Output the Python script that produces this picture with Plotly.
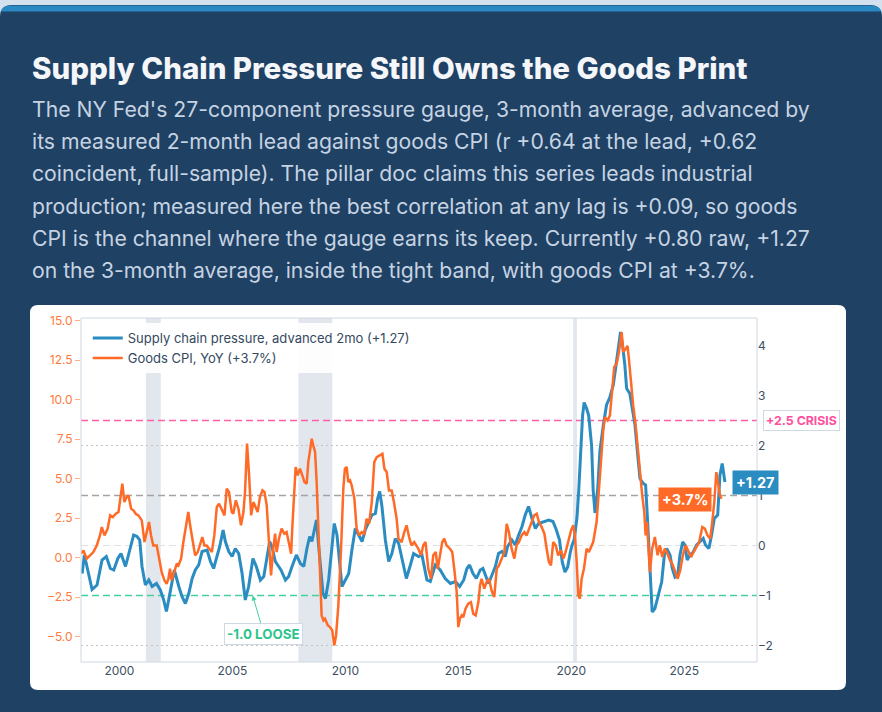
import plotly.graph_objects as go

# supply chain pressure (3-mo avg, advanced 2 months)
pressure_year = [
    1998.35, 1998.45, 1998.79, 1999.01, 1999.23, 1999.42, 1999.60, 1999.75, 1999.93, 2000.07,
    2000.27, 2000.49, 2000.63, 2000.78, 2000.90, 2001.00, 2001.15, 2001.30, 2001.45, 2001.64,
    2001.81, 2001.96, 2002.08, 2002.18, 2002.33, 2002.43, 2002.63, 2002.77, 2002.92, 2003.07,
    2003.22, 2003.36, 2003.51, 2003.66, 2003.88, 2004.03, 2004.17, 2004.32, 2004.44, 2004.59,
    2004.69, 2004.84, 2004.99, 2005.13, 2005.28, 2005.43, 2005.57, 2005.72, 2005.91, 2006.06,
    2006.24, 2006.39, 2006.53, 2006.65, 2006.75, 2006.90, 2007.05, 2007.15, 2007.35, 2007.49,
    2007.64, 2007.83, 2008.01, 2008.16, 2008.30, 2008.42, 2008.52, 2008.63, 2008.72, 2008.86,
    2009.01, 2009.12, 2009.26, 2009.41, 2009.51, 2009.63, 2009.75, 2009.85, 2010.00, 2010.15,
    2010.29, 2010.44, 2010.59, 2010.74, 2010.88, 2011.03, 2011.18, 2011.33, 2011.43, 2011.52,
    2011.62, 2011.77, 2011.92, 2012.06, 2012.21, 2012.36, 2012.51, 2012.70, 2012.88, 2013.02,
    2013.24, 2013.39, 2013.61, 2013.76, 2013.98, 2014.20, 2014.42, 2014.65, 2014.87, 2015.06,
    2015.24, 2015.38, 2015.50, 2015.65, 2015.80, 2015.97, 2016.09, 2016.24, 2016.34, 2016.49,
    2016.64, 2016.78, 2016.93, 2017.08, 2017.18, 2017.37, 2017.52, 2017.67, 2017.82, 2017.96,
    2018.11, 2018.26, 2018.41, 2018.55, 2018.78, 2019.00, 2019.19, 2019.34, 2019.48, 2019.60,
    2019.72, 2019.84, 2019.95, 2020.03, 2020.13, 2020.25, 2020.33, 2020.42, 2020.50, 2020.57,
    2020.68, 2020.77, 2020.90, 2020.97, 2021.05, 2021.17, 2021.27, 2021.42, 2021.56, 2021.71,
    2021.86, 2021.96, 2022.08, 2022.18, 2022.27, 2022.37, 2022.45, 2022.59, 2022.70, 2022.82,
    2022.94, 2023.04, 2023.19, 2023.29, 2023.38, 2023.48, 2023.58, 2023.70, 2023.85, 2024.00,
    2024.12, 2024.22, 2024.37, 2024.47, 2024.59, 2024.71, 2024.81, 2024.93, 2025.03, 2025.13,
    2025.25, 2025.40, 2025.55, 2025.69, 2025.84, 2025.94, 2026.09, 2026.21, 2026.33, 2026.48,
    2026.58, 2026.68, 2026.74, 2026.80,
]
pressure_value = [
    -0.56, -0.19, -0.88, -0.79, -0.29, -0.22, -0.46, -0.49, -0.26, -0.16,
    -0.42, -0.06, 0.21, 0.18, 0.11, -0.42, -0.79, -0.69, -0.82, -0.76,
    -0.89, -1.09, -1.32, -1.09, -0.69, -0.49, -0.82, -1.02, -1.16, -0.96,
    -0.66, -0.49, -0.39, -0.12, -0.09, -0.32, -0.46, -0.22, -0.02, 0.31,
    0.08, -0.12, -0.22, -0.06, -0.16, -0.56, -1.09, -0.82, -0.26, -0.42,
    -0.69, -0.62, -0.22, 0.08, -0.02, -0.32, -0.42, -0.49, -0.69, -0.62,
    -0.42, -0.19, -0.36, -0.42, -0.06, 0.18, 0.08, 0.31, 0.51, -0.22,
    -0.96, -1.06, -0.69, -0.02, 0.44, 0.21, -0.36, -0.82, -0.69, -0.56,
    -0.09, 0.34, 0.21, 0.08, 0.31, 0.48, 0.61, 0.64, 0.94, 1.08,
    0.78, 0.11, -0.32, -0.16, 0.14, 0.04, -0.29, -0.66, -0.39, -0.16,
    -0.22, -0.19, -0.69, -0.72, -0.39, -0.49, -0.66, -0.76, -0.72, -0.82,
    -0.69, -0.46, -0.39, -0.56, -0.66, -0.49, -0.46, -0.66, -0.76, -0.59,
    -0.42, -0.16, -0.12, -0.22, -0.02, 0.11, 0.01, 0.21, 0.38, 0.61,
    0.78, 0.54, 0.34, 0.44, 0.48, 0.51, 0.48, 0.31, 0.11, -0.33,
    -0.53, -0.43, -0.15, 0.0, 0.12, 0.55, 1.1, 1.9, 2.6, 2.86,
    2.74, 2.6, 2.0, 1.1, 0.65, 1.14, 1.9, 2.41, 2.81, 2.97,
    3.21, 3.54, 3.94, 4.27, 4.01, 3.61, 3.14, 3.04, 2.74, 2.41,
    1.81, 1.34, 1.24, 1.21, 0.47, -0.46, -1.33, -1.26, -0.99, -0.73,
    -0.19, -0.06, -0.19, -0.46, -0.63, -0.59, -0.19, 0.07, 0.01, -0.29,
    -0.19, -0.13, 0.01, 0.07, 0.14, 0.01, -0.06, 0.21, 0.54, 0.61,
    1.41, 1.64, 1.41, 1.27,
]

# goods CPI, YoY %
cpi_year = [
    1998.30, 1998.41, 1998.55, 1998.70, 1998.85, 1999.00, 1999.14, 1999.22, 1999.34, 1999.48,
    1999.59, 1999.71, 1999.84, 1999.96, 2000.06, 2000.13, 2000.22, 2000.32, 2000.40, 2000.52,
    2000.62, 2000.72, 2000.84, 2000.99, 2001.11, 2001.21, 2001.31, 2001.40, 2001.50, 2001.65,
    2001.76, 2001.87, 2001.99, 2002.09, 2002.17, 2002.24, 2002.31, 2002.43, 2002.54, 2002.61,
    2002.73, 2002.83, 2002.94, 2003.05, 2003.13, 2003.23, 2003.35, 2003.47, 2003.57, 2003.67,
    2003.76, 2003.86, 2003.97, 2004.09, 2004.20, 2004.31, 2004.41, 2004.53, 2004.65, 2004.75,
    2004.85, 2004.97, 2005.04, 2005.15, 2005.27, 2005.38, 2005.49, 2005.56, 2005.65, 2005.74,
    2005.83, 2005.93, 2006.12, 2006.22, 2006.33, 2006.42, 2006.52, 2006.62, 2006.71, 2006.81,
    2006.89, 2006.96, 2007.06, 2007.18, 2007.30, 2007.40, 2007.48, 2007.60, 2007.65, 2007.73,
    2007.80, 2007.89, 2007.99, 2008.07, 2008.19, 2008.29, 2008.36, 2008.45, 2008.51, 2008.58,
    2008.66, 2008.73, 2008.81, 2008.88, 2008.95, 2009.03, 2009.10, 2009.22, 2009.32, 2009.42,
    2009.51, 2009.59, 2009.69, 2009.81, 2009.91, 2009.98, 2010.06, 2010.13, 2010.21, 2010.28,
    2010.40, 2010.50, 2010.61, 2010.72, 2010.84, 2010.94, 2011.05, 2011.17, 2011.28, 2011.39,
    2011.53, 2011.64, 2011.73, 2011.83, 2011.93, 2012.05, 2012.15, 2012.27, 2012.35, 2012.49,
    2012.61, 2012.71, 2012.82, 2012.93, 2013.05, 2013.23, 2013.35, 2013.45, 2013.55, 2013.67,
    2013.79, 2013.89, 2014.00, 2014.09, 2014.19, 2014.29, 2014.38, 2014.48, 2014.63, 2014.73,
    2014.82, 2014.93, 2015.00, 2015.07, 2015.15, 2015.22, 2015.32, 2015.44, 2015.56, 2015.66,
    2015.77, 2015.89, 2015.96, 2016.03, 2016.15, 2016.25, 2016.36, 2016.47, 2016.59, 2016.70,
    2016.80, 2016.92, 2017.04, 2017.14, 2017.24, 2017.36, 2017.48, 2017.58, 2017.68, 2017.80,
    2017.92, 2018.02, 2018.13, 2018.24, 2018.36, 2018.47, 2018.57, 2018.69, 2018.81, 2018.91,
    2019.01, 2019.10, 2019.20, 2019.31, 2019.42, 2019.54, 2019.65, 2019.75, 2019.87, 2019.99,
    2020.09, 2020.16, 2020.24, 2020.31, 2020.38, 2020.46, 2020.56, 2020.68, 2020.78, 2020.90,
    2020.97, 2021.12, 2021.22, 2021.31, 2021.42, 2021.49, 2021.61, 2021.71, 2021.81, 2021.90,
    2022.01, 2022.11, 2022.23, 2022.30, 2022.41, 2022.49, 2022.55, 2022.64, 2022.74, 2022.85,
    2022.96, 2023.07, 2023.14, 2023.23, 2023.29, 2023.35, 2023.48, 2023.58, 2023.70, 2023.82,
    2023.92, 2024.03, 2024.14, 2024.26, 2024.37, 2024.47, 2024.59, 2024.71, 2024.82, 2024.94,
    2025.06, 2025.18, 2025.30, 2025.41, 2025.55, 2025.66, 2025.80, 2025.91, 2026.03, 2026.15,
    2026.24, 2026.33, 2026.42, 2026.50, 2026.58, 2026.65,
]
cpi_value = [
    0.25, 0.46, -0.06, 0.15, 0.36, 0.78, 1.41, 1.94, 1.41, 1.84,
    2.68, 2.57, 2.78, 2.89, 4.16, 4.68, 3.52, 3.84, 3.95, 3.10,
    3.00, 2.78, 2.68, 2.36, 0.99, 1.62, 2.26, 1.41, 0.78, 0.78,
    -0.06, -0.91, -1.43, -1.65, -1.33, -0.70, -1.43, -0.91, -0.38, -0.49,
    -0.06, 0.99, 1.84, 2.89, 2.05, 1.10, 0.15, 0.36, 0.78, 1.31,
    0.78, 0.78, 0.57, 0.36, 1.41, 3.21, 3.42, 3.00, 2.68, 4.37,
    4.16, 2.89, 2.78, 3.63, 3.10, 2.05, 2.89, 4.16, 7.22, 5.21,
    2.68, 3.52, 2.89, 3.84, 4.26, 4.16, 3.31, 0.99, -1.12, 0.57,
    1.52, 0.36, 1.20, 1.84, 1.52, 1.62, 0.99, 0.25, 1.84, 4.16,
    5.74, 5.21, 5.63, 5.32, 4.79, 4.68, 6.05, 6.90, 7.53, 7.11,
    6.69, 4.79, 1.84, -0.70, -3.65, -3.97, -3.86, -4.28, -4.39, -4.60,
    -5.55, -4.92, -3.02, 0.57, 4.37, 5.63, 5.74, 4.79, 4.89, 4.58,
    3.73, 1.84, 1.41, 1.62, 1.52, 2.47, 2.15, 3.52, 6.05, 6.37,
    6.48, 6.58, 5.63, 5.42, 4.26, 4.26, 3.52, 2.47, 1.20, 0.99,
    1.62, 2.05, 1.31, 0.78, 0.99, 0.57, 0.15, 0.78, 0.99, -0.70,
    -1.33, 0.15, 0.36, -0.70, 0.15, 0.99, 1.20, 0.78, 0.57, 0.36,
    -0.70, -2.17, -4.39, -3.86, -3.65, -3.76, -3.23, -2.91, -2.81, -3.54,
    -3.65, -2.81, -1.75, -1.33, -1.96, -1.54, -1.33, -2.07, -2.49, -0.70,
    -0.49, -0.06, 0.36, 2.15, 1.62, 0.57, -0.06, 0.78, 0.99, 1.41,
    1.62, 1.41, 1.84, 2.26, 2.68, 2.78, 2.26, 1.94, 1.52, 0.57,
    -0.27, -0.49, 0.99, 0.78, 0.15, 0.46, -0.06, 0.36, 0.99, 1.73,
    2.05, 1.41, -0.27, -2.38, -2.59, -1.33, -0.70, 0.57, 0.36, 0.78,
    0.99, 2.26, 4.16, 6.27, 8.16, 8.90, 8.69, 9.01, 10.49, 12.07,
    12.28, 13.02, 14.28, 13.02, 13.23, 13.40, 12.59, 11.12, 9.64, 8.38,
    6.48, 4.79, 3.95, 2.89, 1.41, 2.26, -0.91, 0.57, 1.31, 0.15,
    0.78, 0.04, 0.57, 0.25, -0.17, -0.38, -0.91, -1.33, -0.80, 0.15,
    0.78, 0.36, 0.04, 0.36, 0.68, 0.99, 1.94, 1.84, 1.41, 1.20,
    2.26, 3.52, 5.42, 4.58, 3.95, 3.73,
]

recession_start = [2001.17, 2007.92, 2020.08]
recession_end = [2001.83, 2009.42, 2020.25]

latest_pressure = 1.27
latest_cpi = 3.7

BLUE = "#2b8cc2"
ORANGE = "#ff6a26"
NAVY = "#1f4164"

# page geometry (pixels) -> paper coords
W, H = 882, 712
ML, MR, MT, MB = 81, 125, 318, 50
PW, PH = W - ML - MR, H - MT - MB


def px(x):
    return (x - ML) / PW


def py(y):
    return (H - MB - y) / PH


def rounded(x0, y0, x1, y1, r):
    pts = [
        ("M", x0 + r, y0), ("L", x1 - r, y0), ("Q", x1, y0, x1, y0 + r),
        ("L", x1, y1 - r), ("Q", x1, y1, x1 - r, y1), ("L", x0 + r, y1),
        ("Q", x0, y1, x0, y1 - r), ("L", x0, y0 + r), ("Q", x0, y0, x0 + r, y0),
    ]
    out = []
    for p in pts:
        coords = p[1:]
        s = " ".join(f"{px(coords[i]):.5f},{py(coords[i + 1]):.5f}" for i in range(0, len(coords), 2))
        out.append(p[0] + s)
    return " ".join(out) + " Z"


fig = go.Figure()

fig.add_trace(go.Scatter(
    x=pressure_year, y=pressure_value, mode="lines", yaxis="y",
    line=dict(color=BLUE, width=3),
    name=f"Supply chain pressure, advanced 2mo (+{latest_pressure:.2f})",
))
fig.add_trace(go.Scatter(
    x=cpi_year, y=cpi_value, mode="lines", yaxis="y2",
    line=dict(color=ORANGE, width=2.5),
    name=f"Goods CPI, YoY (+{latest_cpi:.1f}%)",
))

shapes = [
    # dark panel + accent + white card
    dict(type="path", xref="paper", yref="paper", path=rounded(0, 5, 882, 740, 12),
         fillcolor=NAVY, line=dict(width=0), layer="below"),
    dict(type="path", xref="paper", yref="paper",
         path=f"M{px(0.5):.5f},{py(14):.5f} Q{px(0.5):.5f},{py(5.5):.5f} {px(11):.5f},{py(5.5):.5f} "
              f"L{px(871):.5f},{py(5.5):.5f} Q{px(881.5):.5f},{py(5.5):.5f} {px(881.5):.5f},{py(14):.5f} "
              f"L{px(881.5):.5f},{py(11.5):.5f} L{px(0.5):.5f},{py(11.5):.5f} Z",
         fillcolor="#2a88c2", line=dict(width=0), layer="below"),
    dict(type="path", xref="paper", yref="paper", path=rounded(30, 305, 846, 690, 8),
         fillcolor="white", line=dict(width=0), layer="below"),
]
for a, b in zip(recession_start, recession_end):
    shapes.append(dict(type="rect", xref="x", yref="paper", x0=a, x1=b, y0=0, y1=1,
                       fillcolor="#e2e7ee", line=dict(width=0), layer="below"))

hlines = [
    (2.5, "#ff5fa6", "7px,4px", 1.5),
    (2.0, "#c4c4c4", "2px,3px", 1),
    (1.0, "#a3a3a3", "7px,4px", 1.5),
    (0.0, "#e0e0e0", "7px,4px", 1),
    (-1.0, "#45d09e", "7px,4px", 1.5),
    (-2.0, "#c4c4c4", "2px,3px", 1),
]
for yv, col, dash, w in hlines:
    shapes.append(dict(type="line", xref="paper", yref="y", x0=0, x1=1, y0=yv, y1=yv,
                       line=dict(color=col, dash=dash, width=w), layer="below"))

# plot frame
shapes.append(dict(type="rect", xref="paper", yref="paper", x0=0, x1=1, y0=0, y1=1,
                   line=dict(color="#cfd8e3", width=1), layer="above"))

subtitle_lines = [
    "The NY Fed's 27-component pressure gauge, 3-month average, advanced by",
    "its measured 2-month lead against goods CPI (r +0.64 at the lead, +0.62",
    "coincident, full-sample). The pillar doc claims this series leads industrial",
    "production; measured here the best correlation at any lag is +0.09, so goods",
    "CPI is the channel where the gauge earns its keep. Currently +0.80 raw, +1.27",
    "on the 3-month average, inside the tight band, with goods CPI at +3.7%.",
]

annotations = [
    dict(xref="paper", yref="paper", x=px(30), y=py(68), xanchor="left", yanchor="middle",
         text="Supply Chain Pressure Still Owns the Goods Print", showarrow=False,
         font=dict(family="Inter", size=29.5, weight=800, color="#f4f6f9")),
]
for i, line in enumerate(subtitle_lines):
    annotations.append(dict(
        xref="paper", yref="paper", x=px(30), y=py(109 + 32.2 * i),
        xanchor="left", yanchor="middle", text=line, showarrow=False,
        font=dict(family="Inter", size=21.2, color="#c6d3e2"),
    ))

annotations += [
    dict(xref="paper", yref="y", x=1, y=2.5, xanchor="left", xshift=6, showarrow=False,
         text="<b>+2.5 CRISIS</b>", font=dict(family="Inter", size=12.3, color="#ff4f9c"),
         bgcolor="white", bordercolor="#cfd8e3", borderwidth=1, borderpad=2),
    dict(xref="x", yref="y", x=2005.9, y=-1.0, ax=11, ay=38, showarrow=True,
         arrowhead=2, arrowsize=1, arrowwidth=1, arrowcolor="#45d09e",
         text="<b>-1.0 LOOSE</b>", font=dict(family="Inter", size=13.3, color="#2cc48b"),
         bgcolor="white", bordercolor="#cfd8e3", borderwidth=1, borderpad=2),
    dict(xref="x", yref="y", x=pressure_year[-1], y=latest_pressure, xanchor="left", xshift=7,
         showarrow=False, text=f"<b>+{latest_pressure:.2f}</b>",
         font=dict(family="Inter", size=14.5, color="white"), bgcolor=BLUE, borderpad=3),
    dict(xref="x", yref="y2", x=cpi_year[-1], y=latest_cpi, xanchor="right", xshift=-10,
         showarrow=False, text=f"<b>+{latest_cpi:.1f}%</b>",
         font=dict(family="Inter", size=14.5, color="white"), bgcolor=ORANGE, borderpad=3),
]

fig.update_layout(
    width=W, height=H,
    margin=dict(l=ML, r=MR, t=MT, b=MB),
    paper_bgcolor="#d3e1ee",
    plot_bgcolor="rgba(0,0,0,0)",
    font=dict(family="Inter", size=12, color="#3d4f63"),
    showlegend=True,
    legend=dict(x=0.01, y=0.985, xanchor="left", yanchor="top",
                bgcolor="rgba(255,255,255,0.92)", borderwidth=0,
                font=dict(family="Inter", size=13, color="#34495e")),
    xaxis=dict(range=[1998.30, 2028.22], tickvals=[2000, 2005, 2010, 2015, 2020, 2025],
               tickformat="d", showgrid=False, zeroline=False, ticks="",
               tickfont=dict(size=12, color="#3d4f63")),
    yaxis=dict(side="right", range=[-2.33, 4.55], tickvals=[-2, -1, 0, 1, 2, 3, 4],
               showgrid=False, zeroline=False, ticks="",
               tickfont=dict(size=12, color="#3d4f63")),
    yaxis2=dict(side="left", overlaying="y", range=[-6.6, 15.17],
                tickvals=[-5, -2.5, 0, 2.5, 5, 7.5, 10, 12.5, 15], tickformat=".1f",
                showgrid=False, zeroline=False, ticks="outside", ticklen=5,
                tickcolor="#ffae86", tickfont=dict(size=12, color="#ff7a3d")),
    shapes=shapes,
    annotations=annotations,
)

fig.write_html("out.html", config={"displayModeBar": False},
               post_script="document.body.style.margin='0';document.body.style.background='#d3e1ee';")
